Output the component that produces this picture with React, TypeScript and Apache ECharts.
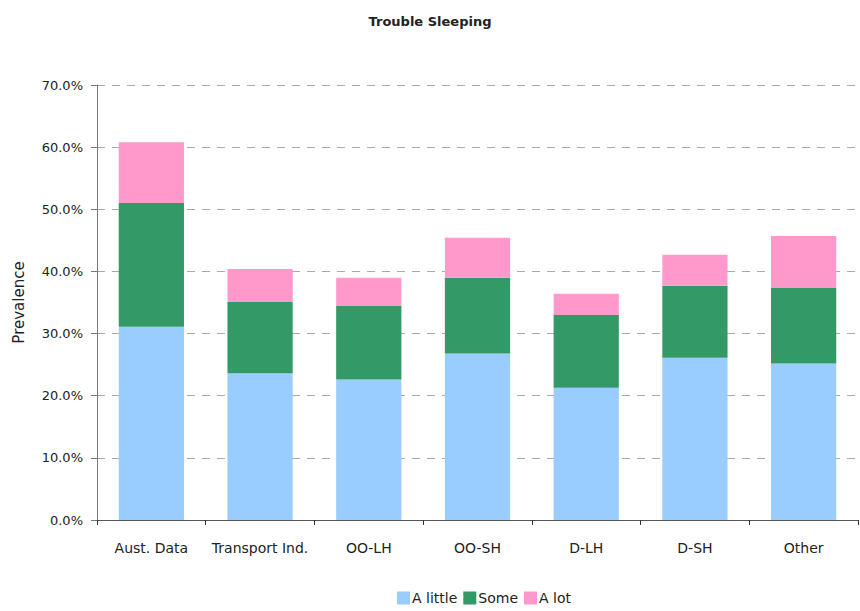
import React, { useEffect, useRef } from "react";
import * as echarts from "echarts";

const categories = ["Aust. Data", "Transport Ind.", "OO-LH", "OO-SH", "D-LH", "D-SH", "Other"];
const aLittle = [31.1, 23.6, 22.6, 26.8, 21.3, 26.1, 25.2];
const some = [19.9, 11.5, 11.9, 12.2, 11.7, 11.6, 12.2];
const aLot = [9.8, 5.3, 4.5, 6.4, 3.4, 5.0, 8.3];
const yTicks = { min: 0, max: 70, interval: 10 };

const FONT = "'DejaVu Sans', sans-serif";

export default function App() {
  const ref = useRef<HTMLDivElement>(null);
  useEffect(() => {
    if (!ref.current) return;
    const chart = echarts.init(ref.current, null, { renderer: "svg" });
    const mk = (name: string, data: number[], color: string) => ({
      name,
      type: "bar",
      stack: "total",
      data,
      barWidth: "60%",
      itemStyle: { color },
      emphasis: { disabled: true },
    });
    chart.setOption({
      animation: false,
      textStyle: { fontFamily: FONT },
      title: {
        text: "Trouble Sleeping",
        left: "center",
        top: 10,
        textStyle: { fontSize: 13, fontWeight: "bold", color: "#222", fontFamily: FONT },
      },
      legend: {
        bottom: 1,
        left: 392,
        itemWidth: 13,
        itemHeight: 13,
        itemGap: 6,
        icon: "rect",
        textStyle: { fontSize: 14, color: "#222", padding: [0, 0, 0, -3] },
        data: ["A little", "Some", "A lot"],
      },
      grid: { left: 97, right: 2, top: 85, bottom: 91, containLabel: false },
      xAxis: {
        type: "category",
        data: categories,
        boundaryGap: true,
        axisLine: { lineStyle: { color: "#555", width: 1 } },
        axisTick: { show: true, length: 5, lineStyle: { color: "#333" } },
        axisLabel: { color: "#222", fontSize: 14, margin: 21, interval: 0 },
      },
      yAxis: {
        type: "value",
        min: yTicks.min,
        max: yTicks.max,
        interval: yTicks.interval,
        name: "Prevalence",
        nameLocation: "middle",
        nameGap: 71,
        nameTextStyle: { color: "#222", fontSize: 15 },
        axisLine: { show: true, lineStyle: { color: "#777" } },
        axisTick: { show: true, length: 6, lineStyle: { color: "#777" } },
        axisLabel: {
          color: "#222",
          fontSize: 13,
          margin: 14,
          formatter: (v: number) => v.toFixed(1) + "%",
        },
        splitLine: { show: true, lineStyle: { color: "#aaa", type: [8, 7], width: 1 } },
      },
      series: [
        mk("A little", aLittle, "#99ccff"),
        mk("Some", some, "#339966"),
        mk("A lot", aLot, "#ff99cc"),
      ],
    });
    return () => chart.dispose();
  }, []);
  return <div ref={ref} style={{ width: 860, height: 611, position: "absolute", left: 0, top: 0 }} />;
}
